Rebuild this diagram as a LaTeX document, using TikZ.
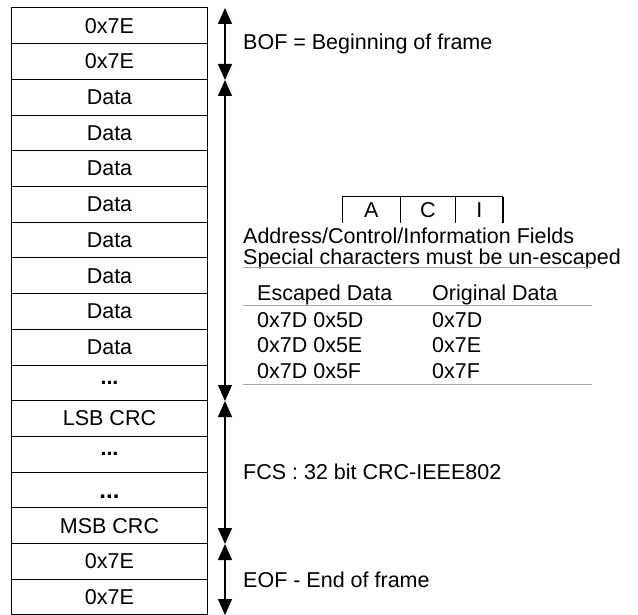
\documentclass[tikz,border=0pt]{standalone}
\usepackage{fontspec}
\setmainfont{Liberation Sans}
\usetikzlibrary{arrows.meta}
\begin{document}
\begin{tikzpicture}[x=1pt,y=-1pt,
  font=\fontsize{21.5}{24}\selectfont,
  field/.style={rectangle,draw,line width=1pt,minimum width=196.5pt,minimum height=35.7pt,inner sep=0pt},
  span/.style={{Triangle[width=14pt,length=16pt]}-{Triangle[width=14pt,length=16pt]},line width=1.2pt},
  note/.style={anchor=west,inner sep=0pt},
  line text/.style={anchor=base west,inner sep=0pt},
  rule/.style={draw=gray!70,line width=0.8pt}]
  \useasboundingbox (0,0) rectangle (638,615);
  % frame fields
  \node[field] (f0) at (109.5,25.85) {0x7E};
  \node[field] (f1) at (109.5,61.55) {0x7E};
  \node[field] (f2) at (109.5,97.25) {Data};
  \node[field] (f3) at (109.5,132.95) {Data};
  \node[field] (f4) at (109.5,168.65) {Data};
  \node[field] (f5) at (109.5,204.35) {Data};
  \node[field] (f6) at (109.5,240.05) {Data};
  \node[field] (f7) at (109.5,275.75) {Data};
  \node[field] (f8) at (109.5,311.45) {Data};
  \node[field] (f9) at (109.5,347.15) {Data};
  \node[field] (f10) at (109.5,382.85) {\textbf{...}};
  \node[field] (f11) at (109.5,418.55) {LSB CRC};
  \node[field] (f12) at (109.5,454.25) {\textbf{...}};
  \node[field] (f13) at (109.5,489.95) {};
  \node[font=\fontsize{24}{24}\selectfont\bfseries] (d13) at (109.5,496.5) {...};
  \node[field] (f14) at (109.5,525.65) {MSB CRC};
  \node[field] (f15) at (109.5,561.35) {0x7E};
  \node[field] (f16) at (109.5,597.05) {0x7E};
  % spans
  \coordinate (s0) at (225,8);
  \coordinate (s1) at (225,80);
  \coordinate (s2) at (225,401);
  \coordinate (s3) at (225,544);
  \coordinate (s4) at (225,615);
  \draw[span] (s0) -- (s1);
  \draw[span] (s1) -- (s2);
  \draw[span] (s2) -- (s3);
  \draw[span] (s3) -- (s4);
  \node[note] (bof) at (243,44) {BOF = Beginning of frame};
  \node[note] (fcs) at (243,472) {FCS : 32 bit CRC-IEEE802};
  \node[note] (eof) at (243,580) {EOF - End of frame};
  % A/C/I fields
  \draw[line width=1pt] (342.7,223) |- (503,196.7);
  \draw[line width=1pt] (400,196.7) -- (400,223);
  \draw[line width=1pt] (455.7,196.7) -- (455.7,223);
  \draw[line width=1.6pt] (503,196.7) -- (503,223);
  \node (a) at (371.3,210) {A};
  \node (c) at (427.8,210) {C};
  \node (i) at (479.3,210) {I};
  \node[line text,align=left,font=\fontsize{21.5}{20.5}\selectfont] (aci) at (243,264.3)
    {Address/Control/Information Fields\\Special characters must be un-escaped};
  % escape table
  \draw[rule] (243,267) -- (592,267);
  \node[line text] (h1) at (257,300) {Escaped Data};
  \node[line text] (h2) at (432,300) {Original Data};
  \draw[rule] (243,305) -- (592,305);
  \node[line text] (r1a) at (257,327.5) {0x7D 0x5D};
  \node[line text] (r1b) at (432,327.5) {0x7D};
  \node[line text] (r2a) at (257,352.5) {0x7D 0x5E};
  \node[line text] (r2b) at (432,352.5) {0x7E};
  \node[line text] (r3a) at (257,378) {0x7D 0x5F};
  \node[line text] (r3b) at (432,378) {0x7F};
  \draw[rule] (243,384) -- (592,384);
\end{tikzpicture}
\end{document}
